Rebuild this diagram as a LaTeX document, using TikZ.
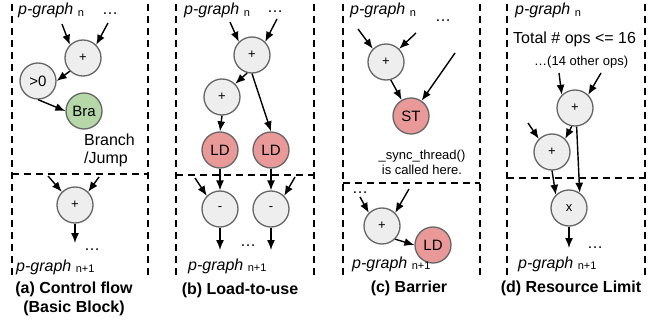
\documentclass[tikz,border=0pt]{standalone}
\usepackage{fontspec}
\setmainfont{Liberation Sans}
\usetikzlibrary{arrows.meta}
\definecolor{OpFill}{HTML}{EEEEEE}
\definecolor{OpEdge}{HTML}{666666}
\definecolor{BraGreen}{HTML}{B6D7A8}
\definecolor{MemRed}{HTML}{EA9999}
\newcommand{\pgraph}[1]{{\itshape p-graph}\ {\fontsize{11}{12}\selectfont\raisebox{-1.5pt}{#1}}}

\begin{document}
\begin{tikzpicture}[x=1pt, y=-1pt, font=\fontsize{16}{18}\selectfont,
  op/.style={circle, draw=OpEdge, line width=1.3pt, fill=OpFill, minimum size=36pt,
             inner sep=0pt, font=\fontsize{13}{14}\selectfont},
  big/.style={op, font=\fontsize{15}{16}\selectfont},
  bra/.style={big, fill=BraGreen},
  mem/.style={big, fill=MemRed},
  flow/.style={-{Latex[length=10pt,width=8pt]}, line width=1.4pt},
  cut/.style={dash pattern=on 7pt off 5pt, line width=1.5pt},
  lbl/.style={anchor=base west, inner sep=0pt},
  captionbox/.style={font=\fontsize{16}{19}\selectfont\bfseries, align=center, inner sep=0pt}]
  \useasboundingbox (0,0) rectangle (662,321);

  % panel frames
  \foreach \xa/\xb/\yc in {12/148/174, 176/314/175, 343/480/183, 507/645/178} {
    \draw[cut] (\xa,4) -- (\xa,277);
    \draw[cut] (\xb,4) -- (\xb,277);
    \draw[cut] (\xa,\yc) -- (\xb,\yc);
  }

  % (a) control flow
  \node[lbl] (pa) at (18,15) {\pgraph{n}};
  \node[lbl] (da) at (102,15) {\ldots};
  \node[op] (addA) at (83,58) {+};
  \node[big] (gtz) at (38,81) {>0};
  \node[bra] (bra) at (84,111) {Bra};
  \node[lbl, align=left] (braTxt) at (84,163) {Branch\\/Jump};
  \coordinate (inA1) at (62,24);
  \coordinate (inA2) at (108,23);
  \draw[flow] (inA1) -- (addA.north west);
  \draw[flow] (inA2) -- (addA.north east);
  \draw[flow] (addA.south west) -- (gtz.east);
  \draw[flow] (gtz.south) -- (bra.west);
  \node[op] (addA2) at (75,205) {+};
  \coordinate (inA3) at (48,176);
  \coordinate (inA4) at (99,177);
  \coordinate (outA) at (75,243);
  \draw[flow] (inA3) -- (addA2.north west);
  \draw[flow] (inA4) -- (addA2.north east);
  \draw[flow] (addA2) -- (outA);
  \node[lbl] (da2) at (84,250) {\ldots};
  \node[lbl] (pa2) at (16,271) {\pgraph{n+1}};
  \node[captionbox] (capA) at (74,299) {(a) Control flow\\(Basic Block)};

  % (b) load-to-use
  \node[lbl] (pb) at (184,15) {\pgraph{n}};
  \node[lbl] (db) at (267,13) {\ldots};
  \node[op] (addB) at (252,55) {+};
  \node[op] (addB2) at (222,97) {+};
  \node[mem] (ldL) at (220,150) {LD};
  \node[mem] (ldR) at (271,150) {LD};
  \node[op] (subL) at (220,209) {-};
  \node[op] (subR) at (271,209) {-};
  \coordinate (inB1) at (230,22);
  \coordinate (inB2) at (277,19);
  \coordinate (inB3) at (195,178);
  \coordinate (inB4) at (295,177);
  \coordinate (outB1) at (220,250);
  \coordinate (outB2) at (271,250);
  \draw[flow] (inB1) -- (addB.north west);
  \draw[flow] (inB2) -- (addB.north east);
  \draw[flow] (addB.-105) -- (addB2.north east);
  \draw[flow] (addB.south) -- (ldR.north);
  \draw[flow] (addB2.south) -- (ldL.north);
  \draw[flow] (ldL) -- (subL);
  \draw[flow] (ldR) -- (subR);
  \draw[flow] (inB3) -- (subL.north west);
  \draw[flow] (inB4) -- (subR.north east);
  \draw[flow] (subL) -- (outB1);
  \draw[flow] (subR) -- (outB2);
  \node[lbl] (db2) at (240,246) {\ldots};
  \node[lbl] (pb2) at (188,270) {\pgraph{n+1}};
  \node[captionbox] (capB) at (240,290) {(b) Load-to-use};

  % (c) barrier
  \node[lbl] (pc) at (350,15) {\pgraph{n}};
  \node[lbl] (dc) at (435,22) {\ldots};
  \node[op] (addC) at (386,62) {+};
  \node[mem] (st) at (411,116) {ST};
  \coordinate (inC1) at (358,29);
  \coordinate (inC2) at (416,33);
  \coordinate (inC3) at (455,53);
  \draw[flow] (inC1) -- (addC.north west);
  \draw[flow] (inC2) -- (addC.north east);
  \draw[flow] (addC.-75) -- (st.120);
  \draw[flow] (inC3) -- (st);
  \node[anchor=base, align=center, inner sep=0pt, font=\fontsize{13}{15}\selectfont]
    (sync) at (422,174) {\_sync\_thread()\\is called here.};
  \node[lbl] (dc2) at (352,193) {\ldots};
  \node[op] (addC2) at (382,226) {+};
  \node[mem] (ldC) at (433,245) {LD};
  \coordinate (inC4) at (360,197);
  \coordinate (inC5) at (409,189);
  \draw[flow] (inC4) -- (addC2.north west);
  \draw[flow] (inC5) -- (addC2.north east);
  \draw[flow] (addC2.south east) -- (ldC.west);
  \node[lbl] (pc2) at (352,268) {\pgraph{n+1}};
  \node[captionbox] (capC) at (409,288) {(c) Barrier};

  % (d) resource limit
  \node[lbl] (pd) at (515,15) {\pgraph{n}};
  \node[lbl] (tot) at (513,44) {Total \# ops <= 16};
  \node[lbl, font=\fontsize{13}{14}\selectfont] (other) at (534,66) {\ldots(14 other ops)};
  \node[op] (addD) at (575,108) {+};
  \node[op] (addD2) at (552,152) {+};
  \node[op] (mulD) at (569,208) {x};
  \coordinate (inD1) at (559,73);
  \coordinate (inD2) at (601,73);
  \coordinate (inD3) at (528,123);
  \coordinate (outD) at (569,248);
  \draw[flow] (inD1) -- (addD.north west);
  \draw[flow] (inD2) -- (addD.north east);
  \draw[flow] (inD3) -- (addD2.north west);
  \draw[flow] (addD.-100) -- (addD2.north east);
  \draw[flow] (addD.-85) -- (mulD.55);
  \draw[flow] (addD2.south) -- (mulD.north west);
  \draw[flow] (mulD) -- (outD);
  \node[lbl] (dd2) at (587,248) {\ldots};
  \node[lbl] (pd2) at (518,268) {\pgraph{n+1}};
  \node[captionbox] (capD) at (571,288) {(d) Resource Limit};
\end{tikzpicture}
\end{document}
